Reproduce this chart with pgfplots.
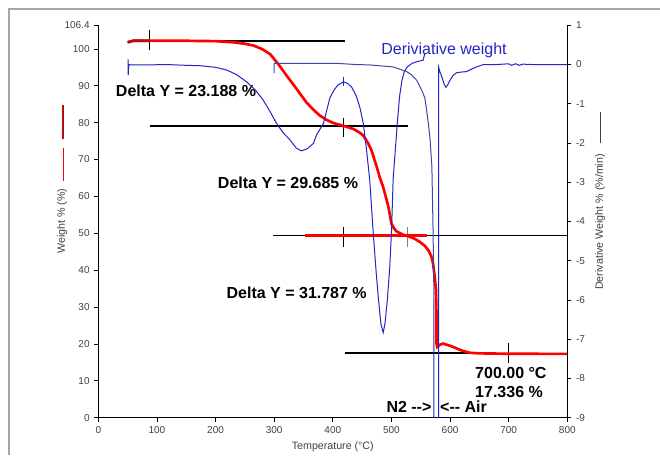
\documentclass[border=0pt]{standalone}
\usepackage{fontspec}
\setmainfont{Liberation Sans}
\usepackage{pgfplots}
\pgfplotsset{compat=1.18}
\definecolor{tickgray}{HTML}{404040}
\definecolor{dblue}{HTML}{2323C8}
\definecolor{dblue2}{HTML}{3A46A8}
\definecolor{wred}{HTML}{FF0000}
\definecolor{wdark}{HTML}{B01010}

\begin{document}
\begin{tikzpicture}[x=0.75pt,y=0.75pt]
\useasboundingbox (0,0) rectangle (660,455);
\draw[gray!70, line width=0.8pt] (9,0) -- (9,446) -- (660,446);

\pgfplotsset{
  tga/.style={
    scale only axis, width=351.75pt, height=294.3pt,
    at={(73.725pt,27.975pt)}, anchor=south west,
    xmin=0, xmax=800,
    tick align=outside, major tick length=3pt,
    tick style={black, line width=0.6pt},
    axis line style={black, line width=0.8pt},
    ticklabel style={font=\fontsize{7.5}{9}\selectfont, text=tickgray},
    /pgf/number format/assume math mode=true,
  },
}

% weight axis (left)
\begin{axis}[tga,
    axis y line*=left, axis x line*=bottom,
    ymin=0, ymax=106.4,
    ytick={0,10,20,30,40,50,60,70,80,90,100,106.4},
    xtick={0,100,200,300,400,500,600,700,800},
    yticklabel style={/pgf/number format/.cd, fixed, precision=1},
]
% step markers
\addplot[black, line width=1.4pt] coordinates {(88,102.2) (421,102.2)};
\addplot[black, line width=0.8pt] coordinates {(88,105) (88,99.7)};
\addplot[black, line width=1.4pt] coordinates {(88,79.0) (528,79.0)};
\addplot[black, line width=0.8pt] coordinates {(419,81.4) (419,76.2)};
\addplot[black, line width=1.4pt] coordinates {(298,49.4) (800,49.4)};
\addplot[black, line width=0.8pt] coordinates {(419,51.8) (419,46.2)};
\addplot[gray, line width=0.8pt] coordinates {(528,51.8) (528,46.2)};
\addplot[black, line width=1.4pt] coordinates {(421,17.5) (640,17.5)};
\addplot[black, line width=0.8pt] coordinates {(700,20.2) (700,14.8)};
\addplot[wred, line width=2pt] coordinates {(353,49.4) (561,49.4)};

% weight curve
\addplot[wred, line width=2pt] coordinates {
(50,101.8) (60,102.2) (100,102.2) (150,102.2) (200,102.1) (230,101.8)
(250,101.4) (265,100.9) (280,99.9) (293,98.6) (307,95.9) (321,92.8)
(338,89.2) (355,85.5) (367,83.5) (378,81.9) (390,80.7) (401,79.9)
(421,79.0) (435,78.3) (445,77.4) (452,76.5) (460,74.5) (466,72.5)
(475,68.0) (480,65.2) (486,62.5) (495,57.1) (500,52.6) (505,51.2)
(509,50.5) (520,49.6) (529,49.2) (540,48.5) (549,47.6) (557,46.6)
(563,45.4) (568,43.8) (571,41.8) (574,38.0) (576,34.6) (577,27.3)
(577,20.0) (578,19.2) (583,19.8) (588,20.1) (600,19.5) (611,18.8)
(622,18.1) (634,17.6) (650,17.45) (700,17.34) (800,17.3)
};
\addplot[wdark, line width=2pt] coordinates {(50,101.8) (60,102.2) (88,102.2)};

\node[font=\fontsize{12}{14}\selectfont\bfseries] at (axis cs:149.6,88.6) {Delta Y = 23.188 \%};
\node[font=\fontsize{12}{14}\selectfont\bfseries] at (axis cs:323.6,63.7) {Delta Y = 29.685 \%};
\node[font=\fontsize{12}{14}\selectfont\bfseries] at (axis cs:338.4,33.8) {Delta Y = 31.787 \%};
\node[font=\fontsize{12}{14}\selectfont\bfseries, anchor=west, inner sep=0pt] at (axis cs:642.5,12.0) {700.00 °C};
\node[font=\fontsize{12}{14}\selectfont\bfseries, anchor=west, inner sep=0pt] at (axis cs:642.5,6.9) {17.336 \%};
\node[font=\fontsize{12}{14}\selectfont\bfseries, anchor=east, inner sep=0pt] at (axis cs:568.7,3.0) {N2 -{}->};
\node[font=\fontsize{12}{14}\selectfont\bfseries, anchor=west, inner sep=0pt] at (axis cs:582.8,3.0) {<-{}- Air};
\node[font=\fontsize{12}{14}\selectfont, text=dblue] at (axis cs:589.7,99.5) {Deriviative weight};
\end{axis}

% derivative axis (right)
\begin{axis}[tga,
    axis y line*=right, axis x line=none,
    ymin=-9, ymax=1,
    ytick={-9,-8,-7,-6,-5,-4,-3,-2,-1,0,1},
]
\addplot[dblue, line width=0.75pt] coordinates {
(51,0.13) (51,-0.27) (52,0.0) (55,-0.01) (80,-0.01) (117,0.0) (150,-0.02)
(174,-0.03) (200,-0.07) (219,-0.14) (235,-0.25) (253,-0.44) (268,-0.65)
(281,-0.90) (293,-1.2) (304,-1.50) (316,-1.75) (327,-1.92) (337,-2.12)
(346,-2.20) (356,-2.15) (367,-2.01) (372,-1.80) (378,-1.65) (384,-1.50)
(390,-1.15) (395,-0.85) (402,-0.65) (409,-0.52) (418,-0.44) (425,-0.48)
(432,-0.57) (440,-0.80) (446,-1.08) (452,-1.5) (457,-2.1) (463,-2.94)
(469,-4.3) (474,-5.3) (478,-6.0) (482,-6.6) (486,-6.83) (489,-6.6)
(493,-6.0) (497,-5.2) (500,-4.3) (503,-2.9) (507,-2.1) (510,-1.5)
(514,-0.8) (518,-0.4) (522,-0.18) (527,-0.06) (535,0.03) (545,0.08)
(554,0.11) (557,0.28)
};
\addplot[dblue, line width=0.6pt] coordinates {(418,-0.33) (418,-0.55)};
\addplot[dblue2, line width=0.75pt] coordinates {
(300,-0.22) (300,0.03) (310,0.03) (350,0.03) (407,0.03) (440,0.0)
(463,-0.01) (503,-0.06) (526,-0.18) (535,-0.27) (543,-0.40) (549,-0.57)
(553,-0.7) (557,-0.85) (560,-1.16) (563,-1.5) (566,-1.92) (569,-2.6)
(571,-4.2) (572.6,-6)
};
\addplot[dblue, line width=0.75pt] coordinates {
(572.6,-6) (572.6,-9.6) (580.6,-9.6) (580.6,-0.07) (583,-0.2) (586,-0.31)
(590,-0.5) (593,-0.58) (596,-0.52) (600,-0.40) (605,-0.28) (611,-0.21)
(620,-0.19) (628,-0.18) (636,-0.12) (645,-0.06) (657,0.0) (680,0.0)
(700,0.02) (705,-0.02) (712,0.02) (718,-0.02) (724,0.01) (740,0.0) (800,0.0)
};
\end{axis}

% axis titles with their line samples
\node[rotate=90, font=\fontsize{8}{10}\selectfont, text=tickgray] at (62,234) {Weight \% (\%)};
\draw[wdark, line width=1.8pt] (63,316) -- (63,350);
\draw[wred, line width=0.6pt] (63,274) -- (63,307);
\node[rotate=90, font=\fontsize{8}{10}\selectfont, text=tickgray] at (600,233) {Derivative Weight \% (\%/min)};
\draw[tickgray, line width=0.6pt] (600,312) -- (600,343);
\node[font=\fontsize{8}{10}\selectfont, text=tickgray] at (332.8,8.3) {Temperature (°C)};
\end{tikzpicture}
\end{document}
